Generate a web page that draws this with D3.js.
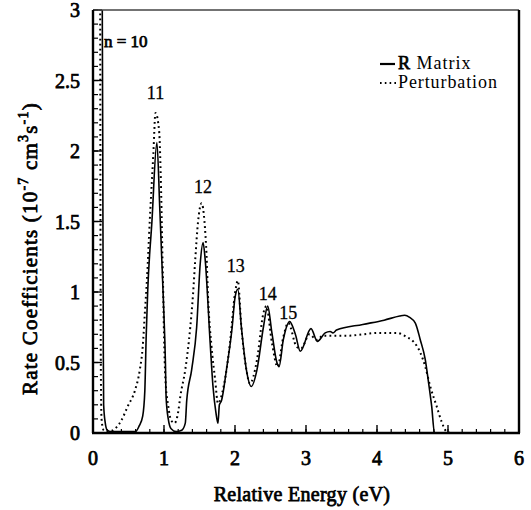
<!DOCTYPE html>
<html>
<head>
<meta charset="UTF-8">
<script src="https://d3js.org/d3.v7.min.js"></script>
<style>
  body { margin: 0; background: #fff; }
  /* Liberation Serif has no bold face here, so thicken the regular one */
  .bold { stroke: #000; stroke-width: 0.75px; }
</style>
</head>
<body>
<svg></svg>
<script>
// R-matrix curve [energy eV, rate 1e-7 cm3/s]
var rMatrix = [
  [0.0,3.5],[0.13,3.1],[0.14,1.5],[0.145,0.6],[0.15,0.2],[0.17,0.08],[0.2,0.02],[0.25,0.01],
  [0.6,0.01],[0.65,0.05],[0.7,0.12],[0.73,0.3],[0.75,0.7],[0.77,1.0],[0.83,1.5],[0.9,2.06],
  [0.94,1.6],[0.99,0.96],[1.02,0.5],[1.03,0.25],[1.06,0.1],[1.1,0.03],[1.17,0.01],[1.25,0.02],
  [1.3,0.07],[1.32,0.23],[1.39,0.45],[1.46,0.75],[1.51,1.2],[1.55,1.35],[1.58,1.23],[1.65,0.64],
  [1.69,0.33],[1.73,0.15],[1.76,0.07],[1.78,0.2],[1.81,0.23],[1.88,0.45],[1.96,0.75],[2.0,0.96],
  [2.04,1.02],[2.09,0.75],[2.16,0.45],[2.23,0.33],[2.31,0.45],[2.40,0.75],[2.46,0.9],[2.52,0.71],
  [2.59,0.5],[2.62,0.47],[2.68,0.66],[2.77,0.79],[2.85,0.7],[2.92,0.58],[3.07,0.74],[3.16,0.65],
  [3.27,0.71],[3.34,0.72],[3.38,0.71],[3.43,0.73],[3.8,0.77],[4.1,0.8],[4.32,0.83],[4.39,0.835],
  [4.46,0.82],[4.54,0.78],[4.61,0.66],[4.68,0.52],[4.72,0.38],[4.77,0.19],[4.81,0.0],[6.0,0.0]
];

// perturbation curve
var perturbation = [
  [0.0,3.5],[0.1,3.2],[0.105,1.5],[0.11,0.5],[0.12,0.1],[0.15,0.02],[0.21,0.01],[0.33,0.04],
  [0.40,0.09],[0.49,0.19],[0.59,0.3],[0.66,0.45],[0.70,0.61],[0.73,0.85],[0.76,1.09],[0.80,1.51],
  [0.85,1.98],[0.88,2.27],[0.93,2.15],[0.96,1.7],[0.98,1.2],[0.99,0.97],[1.0,0.7],[1.02,0.38],
  [1.06,0.19],[1.1,0.09],[1.15,0.07],[1.2,0.15],[1.23,0.26],[1.30,0.45],[1.37,0.75],[1.41,0.99],
  [1.44,1.23],[1.48,1.5],[1.53,1.63],[1.57,1.5],[1.60,1.25],[1.62,0.97],[1.67,0.61],[1.72,0.38],
  [1.76,0.21],[1.84,0.33],[1.93,0.64],[2.0,0.99],[2.04,1.08],[2.09,0.75],[2.16,0.45],[2.21,0.35],
  [2.31,0.52],[2.40,0.85],[2.44,0.9],[2.52,0.64],[2.6,0.47],[2.68,0.68],[2.75,0.78],[2.87,0.61],
  [2.93,0.6],[3.05,0.7],[3.15,0.66],[3.24,0.69],[3.57,0.69],[4.04,0.71],[4.28,0.71],[4.42,0.68],
  [4.51,0.65],[4.61,0.57],[4.68,0.47],[4.75,0.33],[4.84,0.19],[4.91,0.08],[4.98,0.01],[5.05,0],[6,0]
];

var xTicks = [0,1,2,3,4,5,6];
var yTicks = [0,0.5,1,1.5,2,2.5,3];
var yTickLabels = ["0","0.5","1","1.5","2","2.5","3"];

// resonance labels: [n label, energy, rate]
var peakLabels = [["11",0.88,2.37],["12",1.55,1.7],["13",2.01,1.14],["14",2.46,0.94],["15",2.75,0.81]];

var width = 531, height = 510;
var margin = {left: 93, right: 12, top: 10, bottom: 77};
var serif = "'Liberation Serif', 'Times New Roman', serif";

var svg = d3.select("svg").attr("width", width).attr("height", height)
  .attr("font-family", serif);

var x = d3.scaleLinear().domain([0, 6]).range([margin.left, width - margin.right]);
var y = d3.scaleLinear().domain([0, 3]).range([height - margin.bottom, margin.top]);

svg.append("defs").append("clipPath").attr("id", "plotclip")
  .append("rect")
  .attr("x", x(0)).attr("y", y(3))
  .attr("width", x(6) - x(0)).attr("height", y(0) - y(3));

// minor ticks (inside)
var xMinor = d3.range(0, 6.001, 0.2);
var yMinor = d3.range(0, 3.001, 0.1);

var ticks = svg.append("g").attr("stroke", "#000");
ticks.selectAll(".xm").data(xMinor).enter().append("line")
  .attr("x1", d => x(d)).attr("x2", d => x(d))
  .attr("y1", y(0)).attr("y2", y(0) - 4).attr("stroke-width", 1.2);
ticks.selectAll(".xM").data(xTicks).enter().append("line")
  .attr("x1", d => x(d)).attr("x2", d => x(d))
  .attr("y1", y(0)).attr("y2", y(0) - 8).attr("stroke-width", 1.4);
ticks.selectAll(".ym").data(yMinor).enter().append("line")
  .attr("x1", x(0)).attr("x2", x(0) + 5)
  .attr("y1", d => y(d)).attr("y2", d => y(d)).attr("stroke-width", 1.2);
ticks.selectAll(".yM").data(yTicks).enter().append("line")
  .attr("x1", x(0)).attr("x2", x(0) + 9)
  .attr("y1", d => y(d)).attr("y2", d => y(d)).attr("stroke-width", 1.4);

// curves
var line = d3.line().x(d => x(d[0])).y(d => y(d[1])).curve(d3.curveMonotoneX);

var plot = svg.append("g").attr("clip-path", "url(#plotclip)");
plot.append("path").datum(perturbation)
  .attr("d", line).attr("fill", "none").attr("stroke", "#000")
  .attr("stroke-width", 2).attr("stroke-dasharray", "1.8,3.2");
plot.append("path").datum(rMatrix)
  .attr("d", line).attr("fill", "none").attr("stroke", "#000")
  .attr("stroke-width", 1.6);

// frame
svg.append("line").attr("x1", x(0)).attr("x2", x(6)).attr("y1", y(3)).attr("y2", y(3))
  .attr("stroke", "#444").attr("stroke-width", 1.6);
svg.append("line").attr("x1", x(6)).attr("x2", x(6)).attr("y1", y(3)).attr("y2", y(0))
  .attr("stroke", "#000").attr("stroke-width", 2.4);
svg.append("line").attr("x1", x(0)).attr("x2", x(0)).attr("y1", y(3)).attr("y2", y(0))
  .attr("stroke", "#000").attr("stroke-width", 2.4);
svg.append("line").attr("x1", x(0) - 1).attr("x2", x(6) + 1).attr("y1", y(0)).attr("y2", y(0))
  .attr("stroke", "#000").attr("stroke-width", 2.4);

// tick labels
svg.selectAll(".xl").data(xTicks).enter().append("text")
  .attr("class", "bold")
  .attr("x", d => x(d)).attr("y", y(0) + 32)
  .attr("text-anchor", "middle").attr("font-size", 20)
  .text(d => d);
svg.selectAll(".yl").data(yTicks).enter().append("text")
  .attr("class", "bold")
  .attr("x", x(0) - 13).attr("y", d => y(d) + 7)
  .attr("text-anchor", "end").attr("font-size", 20)
  .text((d, i) => yTickLabels[i]);

// axis titles
svg.append("text").attr("class", "bold")
  .attr("x", (x(0) + x(6)) / 2 - 4).attr("y", 501)
  .attr("text-anchor", "middle").attr("font-size", 20).attr("letter-spacing", 0.3)
  .text("Relative Energy (eV)");

var yt = svg.append("text").attr("class", "bold")
  .attr("transform", "translate(37,395) rotate(-90)")
  .attr("text-anchor", "start").attr("font-size", 21).attr("letter-spacing", 1.2);
yt.append("tspan").text("Rate Coefficients (10");
yt.append("tspan").attr("dy", -9).attr("font-size", 14).text("-7");
yt.append("tspan").attr("dy", 9).text(" cm");
yt.append("tspan").attr("dy", -9).attr("font-size", 14).text("3");
yt.append("tspan").attr("dy", 9).text("s");
yt.append("tspan").attr("dy", -9).attr("font-size", 14).text("-1");
yt.append("tspan").attr("dy", 9).text(")");

// peak annotations
svg.append("text").attr("class", "bold").attr("x", x(0) + 11).attr("y", 47)
  .attr("font-size", 17).text("n = 10");
svg.selectAll(".pk").data(peakLabels).enter().append("text")
  .attr("x", d => x(d[1])).attr("y", d => y(d[2]))
  .attr("text-anchor", "middle").attr("font-size", 18)
  .attr("stroke", "#000").attr("stroke-width", 0.3)
  .text(d => d[0]);

// legend
var lg = svg.append("g");
lg.append("line").attr("x1", 380).attr("x2", 395).attr("y1", 64).attr("y2", 64)
  .attr("stroke", "#000").attr("stroke-width", 2.2);
var t1 = lg.append("text").attr("x", 398).attr("y", 69).attr("font-size", 18).attr("letter-spacing", 1);
t1.append("tspan").attr("class", "bold").text("R");
t1.append("tspan").text(" Matrix");
lg.append("line").attr("x1", 380).attr("x2", 396).attr("y1", 83).attr("y2", 83)
  .attr("stroke", "#000").attr("stroke-width", 2).attr("stroke-dasharray", "1.6,3.2");
lg.append("text").attr("x", 398).attr("y", 88).attr("font-size", 18).attr("letter-spacing", 0.9)
  .text("Perturbation");
</script>
</body>
</html>
